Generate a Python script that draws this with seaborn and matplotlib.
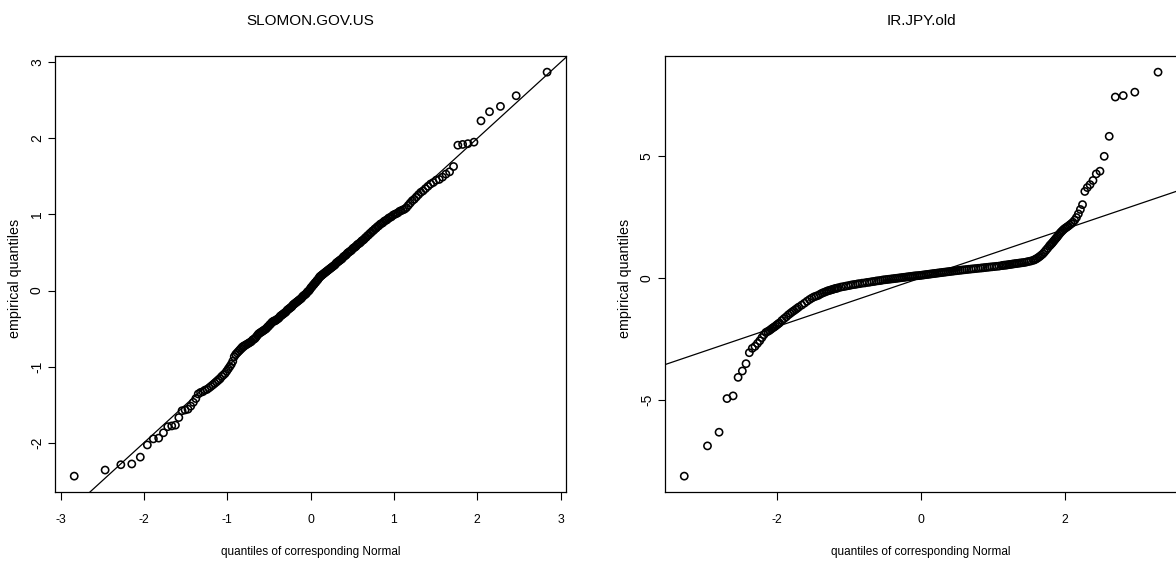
import numpy as np
import pandas as pd
import seaborn as sns
import matplotlib
matplotlib.use("Agg")
import matplotlib.pyplot as plt
from matplotlib import font_manager
from matplotlib.ticker import MultipleLocator
from statistics import NormalDist

# Sorted standardized residuals, SLOMON.GOV.US (all 220 observations)
slomon_values = [
    -2.44, -2.36, -2.29, -2.28, -2.19, -2.03, -1.95, -1.94, -1.87, -1.79,
    -1.78, -1.77, -1.67, -1.58, -1.57, -1.56, -1.52, -1.47, -1.42, -1.36,
    -1.34, -1.33, -1.31, -1.30, -1.28, -1.26, -1.24, -1.22, -1.20, -1.18,
    -1.16, -1.13, -1.11, -1.09, -1.06, -1.03, -1.00, -0.97, -0.93, -0.87,
    -0.84, -0.82, -0.80, -0.78, -0.76, -0.74, -0.73, -0.72, -0.71, -0.70,
    -0.69, -0.68, -0.67, -0.65, -0.64, -0.63, -0.61, -0.59, -0.57, -0.56,
    -0.55, -0.54, -0.53, -0.52, -0.51, -0.50, -0.48, -0.47, -0.45, -0.44,
    -0.42, -0.41, -0.40, -0.40, -0.39, -0.38, -0.37, -0.36, -0.34, -0.33,
    -0.32, -0.31, -0.30, -0.29, -0.28, -0.26, -0.25, -0.24, -0.23, -0.22,
    -0.21, -0.19, -0.18, -0.17, -0.16, -0.15, -0.14, -0.13, -0.12, -0.11,
    -0.10, -0.08, -0.07, -0.06, -0.05, -0.04, -0.02, -0.01, 0.00, 0.02,
    0.04, 0.05, 0.07, 0.08, 0.10, 0.11, 0.13, 0.14, 0.16, 0.18,
    0.19, 0.20, 0.21, 0.22, 0.23, 0.24, 0.25, 0.26, 0.27, 0.28,
    0.29, 0.30, 0.31, 0.32, 0.33, 0.34, 0.36, 0.37, 0.38, 0.39,
    0.40, 0.41, 0.42, 0.44, 0.45, 0.46, 0.47, 0.49, 0.50, 0.51,
    0.52, 0.53, 0.55, 0.56, 0.57, 0.58, 0.60, 0.61, 0.62, 0.63,
    0.65, 0.66, 0.67, 0.69, 0.70, 0.72, 0.73, 0.75, 0.76, 0.78,
    0.79, 0.81, 0.82, 0.84, 0.85, 0.87, 0.88, 0.89, 0.91, 0.92,
    0.93, 0.95, 0.96, 0.97, 0.99, 1.00, 1.01, 1.02, 1.04, 1.05,
    1.06, 1.07, 1.09, 1.12, 1.15, 1.18, 1.20, 1.23, 1.26, 1.29,
    1.31, 1.34, 1.37, 1.40, 1.42, 1.45, 1.46, 1.49, 1.53, 1.56,
    1.63, 1.91, 1.92, 1.93, 1.95, 2.23, 2.35, 2.42, 2.56, 2.87,
]
slomon_n = len(slomon_values)
slomon_rank = list(range(1, slomon_n + 1))

# Sorted standardized residuals, IR.JPY.old (1000 observations; every
# observation in the tails, a thinned selection in the dense centre)
jpy_n = 1000
jpy_rank = [
    *range(1, 26), *range(27, 46, 2), *range(49, 126, 4), *range(133, 198, 8),
    *range(207, 798, 10), *range(805, 870, 8), *range(873, 942, 4),
    *range(943, 964, 2), *range(964, 1001),
]
jpy_values = [
    # ranks 1-25
    -8.13, -6.89, -6.33, -4.95, -4.84, -4.08, -3.82, -3.52, -3.07, -2.89,
    -2.81, -2.69, -2.58, -2.45, -2.33, -2.24, -2.20, -2.16, -2.11, -2.06,
    -2.02, -1.98, -1.93, -1.89, -1.85,
    # ranks 27-45
    -1.75, -1.67, -1.60, -1.52, -1.46, -1.40, -1.35, -1.30, -1.25, -1.20,
    # ranks 49-125
    -1.12, -1.04, -0.96, -0.89, -0.83, -0.78, -0.75, -0.72, -0.67, -0.63,
    -0.60, -0.57, -0.54, -0.52, -0.50, -0.48, -0.46, -0.44, -0.43, -0.41,
    # ranks 133-197
    -0.38, -0.36, -0.34, -0.32, -0.30, -0.28, -0.27, -0.25, -0.24,
    # ranks 207-797
    -0.22, -0.21, -0.19, -0.18, -0.16, -0.15, -0.13, -0.12, -0.11, -0.09,
    -0.08, -0.07, -0.06, -0.05, -0.04, -0.03, -0.02, -0.01, 0.00, 0.01,
    0.02, 0.03, 0.04, 0.05, 0.06, 0.07, 0.08, 0.085, 0.09, 0.10,
    0.11, 0.12, 0.13, 0.14, 0.15, 0.16, 0.17, 0.18, 0.19, 0.20,
    0.21, 0.22, 0.23, 0.24, 0.25, 0.26, 0.27, 0.28, 0.29, 0.30,
    0.31, 0.32, 0.33, 0.34, 0.35, 0.36, 0.37, 0.38, 0.39, 0.40,
    # ranks 805-869
    0.41, 0.42, 0.43, 0.44, 0.45, 0.46, 0.47, 0.48, 0.50,
    # ranks 873-941
    0.51, 0.52, 0.52, 0.53, 0.54, 0.55, 0.56, 0.57, 0.58, 0.59,
    0.60, 0.61, 0.62, 0.63, 0.65, 0.67, 0.69, 0.72,
    # ranks 943-963
    0.74, 0.77, 0.80, 0.84, 0.88, 0.93, 0.98, 1.05, 1.13, 1.21, 1.30,
    # ranks 964-1000
    1.34, 1.38, 1.42, 1.47, 1.52, 1.57, 1.62, 1.67, 1.73, 1.79,
    1.85, 1.90, 1.95, 2.00, 2.04, 2.08, 2.12, 2.17, 2.22, 2.28,
    2.36, 2.47, 2.62, 2.80, 3.00, 3.54, 3.70, 3.82, 3.99, 4.26,
    4.37, 4.98, 5.80, 7.41, 7.47, 7.61, 8.43,
]


def normal_scores(ranks, n):
    """Normal quantiles at plotting positions (i - 0.5) / n."""
    nd = NormalDist()
    return np.array([nd.inv_cdf((r - 0.5) / n) for r in ranks])


slomon_df = pd.DataFrame({
    "theoretical": normal_scores(slomon_rank, slomon_n),
    "empirical": slomon_values,
})
jpy_df = pd.DataFrame({
    "theoretical": normal_scores(jpy_rank, jpy_n),
    "empirical": jpy_values,
})

sns.set_style("white")
plt.rcParams.update({
    "font.family": ["Liberation Sans", "DejaVu Sans"],
    "axes.unicode_minus": False,
    "axes.edgecolor": "black",
    "axes.linewidth": 0.9,
    "xtick.color": "black",
    "ytick.color": "black",
    "xtick.direction": "out",
    "ytick.direction": "out",
    "xtick.bottom": True,
    "ytick.left": True,
    "xtick.major.size": 5.8,
    "ytick.major.size": 5.2,
    "xtick.major.width": 0.8,
    "ytick.major.width": 0.8,
    "text.color": "black",
    "axes.labelcolor": "black",
})

# Horizontal text uses a condensed face when one is installed
installed = {f.name for f in font_manager.fontManager.ttflist}
if "Liberation Sans Narrow" in installed:
    h_family = ["Liberation Sans Narrow", "Liberation Sans"]
    title_size, xlabel_size, xtick_size = 13.4, 10.3, 9.4
else:
    h_family = ["Liberation Sans", "DejaVu Sans"]
    title_size, xlabel_size, xtick_size = 11.0, 8.5, 8.8

W, H = 1176, 563
fig = plt.figure(figsize=(W / 100, H / 100), dpi=100)
plot_top, plot_bottom = 56.0, 492.3
ax_h = (plot_bottom - plot_top) / H
ax1 = fig.add_axes([55.3 / W, (H - plot_bottom) / H, 510.7 / W, ax_h])
ax2 = fig.add_axes([665.3 / W, (H - plot_bottom) / H, 511.7 / W, ax_h])

panels = [
    (ax1, "SLOMON.GOV.US", slomon_df, 1, 1),
    (ax2, "IR.JPY.old", jpy_df, 2, 5),
]

for ax, title, df, xstep, ystep in panels:
    sns.scatterplot(
        data=df, x="theoretical", y="empirical", ax=ax,
        marker="o", s=27, facecolors="none", edgecolor="black",
        linewidth=1.15, legend=False, zorder=3,
    )
    # 45-degree reference line
    ax.axline((0, 0), slope=1, color="black", lw=0.9, zorder=2)

    # limits padded by 4% of the data range on each side
    xr = df["theoretical"].max() - df["theoretical"].min()
    yr = df["empirical"].max() - df["empirical"].min()
    ax.set_xlim(df["theoretical"].min() - 0.04 * xr, df["theoretical"].max() + 0.04 * xr)
    ax.set_ylim(df["empirical"].min() - 0.04 * yr, df["empirical"].max() + 0.04 * yr)

    ax.xaxis.set_major_locator(MultipleLocator(xstep))
    ax.yaxis.set_major_locator(MultipleLocator(ystep))
    ax.tick_params(axis="x", pad=9.5, labelsize=xtick_size)
    ax.tick_params(axis="y", pad=3, labelrotation=90, labelsize=10)
    plt.setp(ax.get_xticklabels(), family=h_family)
    plt.setp(ax.get_yticklabels(), va="center")

    ax.set_title(title, fontsize=title_size, family=h_family, pad=22)
    ax.set_xlabel("quantiles of corresponding Normal", fontsize=xlabel_size, family=h_family)
    ax.set_ylabel("empirical quantiles", fontsize=10.3)
    ax.xaxis.set_label_coords(0.5, -(551.7 - plot_bottom) / (plot_bottom - plot_top))
    ax.xaxis.label.set_va("center")
    ax.yaxis.set_label_coords(-40.3 / 510.7, 0.49)
    ax.yaxis.label.set_va("center")
    for side in ["top", "right", "bottom", "left"]:
        ax.spines[side].set_visible(True)

fig.savefig("out.png", dpi=100)
